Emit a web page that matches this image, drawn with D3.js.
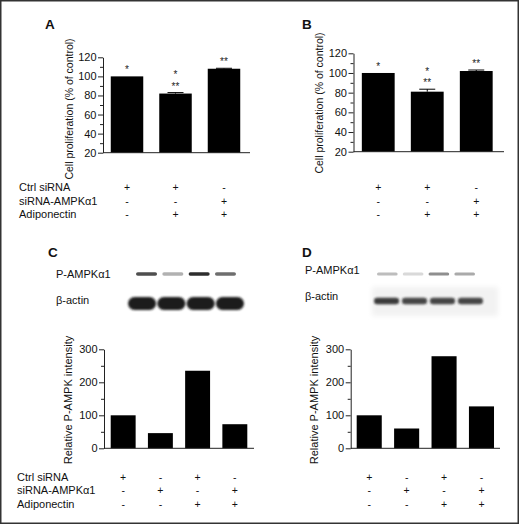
<!DOCTYPE html>
<html>
<head>
<meta charset="utf-8">
<script src="https://cdn.jsdelivr.net/npm/d3@7"></script>
<style>
  body { margin: 0; background: #fff; }
  svg { display: block; }
</style>
</head>
<body>
<div id="chart-wrap"></div>
<script>
// --- data -----------------------------------------------------------
// panels A / B : cell proliferation (% of control)
const groupsAB = ["ctrl", "ctrl+adipo", "si+adipo"];
const prolifA = [100, 82, 108];
const prolifErrA = [0, 1, 0.5];
const prolifB = [100, 81, 102];
const prolifErrB = [0, 2.5, 1];
const starsA = [["*"], ["*", "**"], ["**"]];
const starsB = [["*"], ["*", "**"], ["**"]];
const prolifTicks = [20, 40, 60, 80, 100, 120];
const prolifMinor = [30, 50, 70, 90, 110];

const rowLabels = ["Ctrl siRNA", "siRNA-AMPKα1", "Adiponectin"];
const signsAB = [["+", "+", "-"], ["-", "-", "+"], ["-", "+", "+"]];

// panels C / D : relative P-AMPK intensity
const groupsCD = ["ctrl", "si", "ctrl+adipo", "si+adipo"];
const intensityC = [100, 46, 235, 73];
const intensityD = [100, 60, 279, 127];
const intensityTicks = [0, 100, 200, 300];
const intensityMinor = [50, 150, 250];
const signsCD = [["+", "-", "+", "-"], ["-", "+", "-", "+"], ["-", "-", "+", "+"]];

// western blot band densities (0-1)
const blotLabels = ["P-AMPKα1", "β-actin"];
const pampkC = [0.8, 0.35, 0.95, 0.65];
const actinC = [1, 1, 1, 1];
const pampkD = [0.35, 0.2, 0.6, 0.45];
const actinD = [0.85, 0.8, 0.8, 0.8];

// --- drawing --------------------------------------------------------
const width = 520;
const height = 527;
const FONT = "'Liberation Sans', Arial, Helvetica, sans-serif";
const INK = "#111";

const svg = d3.select("#chart-wrap")
  .append("svg")
  .attr("width", width)
  .attr("height", height)
  .attr("font-family", FONT);

const defs = svg.append("defs");
[["blur1", 0.9], ["blur2", 0.6], ["blur3", 2.5]].forEach(([id, s]) => {
  defs.append("filter").attr("id", id)
    .attr("x", "-20%").attr("y", "-50%").attr("width", "140%").attr("height", "200%")
    .append("feGaussianBlur").attr("stdDeviation", s);
});

// outer frame
svg.append("rect")
  .attr("x", 0.75).attr("y", 0.75)
  .attr("width", 517.5).attr("height", 522.5)
  .attr("fill", "none").attr("stroke", "#333").attr("stroke-width", 1.5);

function barChart(cfg) {
  const g = svg.append("g");
  const y = d3.scaleLinear().domain(cfg.domain).range([cfg.bottom, cfg.top]);
  const x = d3.scaleBand()
    .domain(cfg.groups)
    .range([cfg.left, cfg.right])
    .paddingInner(0.33)
    .paddingOuter(cfg.outer);
  const bw = x.bandwidth();
  const cx = i => x(cfg.groups[i]) + bw / 2;

  // bars
  g.selectAll("rect.bar")
    .data(cfg.values)
    .join("rect")
    .attr("class", "bar")
    .attr("x", (d, i) => x(cfg.groups[i]))
    .attr("y", d => y(d))
    .attr("width", bw)
    .attr("height", d => y(cfg.domain[0]) - y(d))
    .attr("fill", "#000");

  // error bars
  if (cfg.errors) {
    cfg.values.forEach((v, i) => {
      const e = cfg.errors[i];
      if (!e) return;
      g.append("line")
        .attr("x1", cx(i)).attr("x2", cx(i))
        .attr("y1", y(v)).attr("y2", y(v + e))
        .attr("stroke", "#000").attr("stroke-width", 1);
      g.append("line")
        .attr("x1", cx(i) - 8).attr("x2", cx(i) + 8)
        .attr("y1", y(v + e)).attr("y2", y(v + e))
        .attr("stroke", "#000").attr("stroke-width", 1);
    });
  }

  // significance stars, bottom line sits closest to the bar
  if (cfg.stars) {
    cfg.stars.forEach((lines, i) => {
      const top = y(cfg.values[i] + (cfg.errors ? cfg.errors[i] : 0));
      const n = lines.length;
      lines.forEach((s, k) => {
        g.append("text")
          .attr("x", cx(i))
          .attr("y", top - 9 - (n - 1 - k) * 11.5 + 6)
          .attr("text-anchor", "middle")
          .attr("font-size", 10)
          .attr("fill", "#222")
          .text(s);
      });
    });
  }

  // y axis, major + minor ticks
  const axis = g.append("g")
    .attr("transform", `translate(${cfg.left},0)`)
    .call(d3.axisLeft(y).tickValues(cfg.ticks).tickSize(5).tickSizeOuter(0).tickPadding(1.5));
  axis.attr("font-family", FONT).attr("font-size", 11);
  axis.selectAll("text").attr("fill", INK);
  axis.selectAll("line, path").attr("stroke", "#222");

  const minor = g.append("g")
    .attr("transform", `translate(${cfg.left},0)`)
    .call(d3.axisLeft(y).tickValues(cfg.minor).tickSize(3).tickSizeOuter(0).tickFormat(""));
  minor.select(".domain").remove();
  minor.selectAll("line").attr("stroke", "#222");

  // baseline
  g.append("line")
    .attr("x1", cfg.left).attr("x2", cfg.axisEnd)
    .attr("y1", y(cfg.domain[0])).attr("y2", y(cfg.domain[0]))
    .attr("stroke", "#222");

  // y label
  g.append("text")
    .attr("transform", `translate(${cfg.labelX},${cfg.labelY}) rotate(-90)`)
    .attr("text-anchor", "middle")
    .attr("font-size", cfg.labelSize)
    .attr("fill", INK)
    .text(cfg.label);

  // treatment table
  cfg.signs.forEach((row, r) => {
    row.forEach((s, i) => {
      g.append("text")
        .attr("x", cx(i))
        .attr("y", cfg.rowY[r])
        .attr("text-anchor", "middle")
        .attr("font-size", 10.5)
        .attr("fill", INK)
        .text(s);
    });
    if (cfg.rowLabelX != null) {
      g.append("text")
        .attr("x", cfg.rowLabelX)
        .attr("y", cfg.rowY[r])
        .attr("font-size", 11)
        .attr("fill", INK)
        .text(rowLabels[r]);
    }
  });
}

function panelLetter(t, x, y) {
  svg.append("text")
    .attr("x", x).attr("y", y)
    .attr("font-size", 13.5)
    .attr("font-weight", "bold")
    .attr("fill", INK)
    .text(t);
}

function blot(cfg) {
  const g = svg.append("g");
  if (cfg.bg) {
    g.append("rect")
      .attr("x", cfg.bg[0]).attr("y", cfg.bg[1])
      .attr("width", cfg.bg[2]).attr("height", cfg.bg[3])
      .attr("fill", "#f2f2f2")
      .attr("filter", "url(#blur3)");
  }
  const xp = d3.scaleBand().domain(cfg.groups).range(cfg.pRange).paddingInner(0.2);
  g.selectAll("rect.p")
    .data(cfg.pampk)
    .join("rect")
    .attr("class", "p")
    .attr("x", (d, i) => xp(cfg.groups[i]))
    .attr("y", cfg.pY - cfg.pH / 2)
    .attr("width", xp.bandwidth())
    .attr("height", cfg.pH)
    .attr("rx", cfg.pH / 2)
    .attr("fill", cfg.pColor)
    .attr("opacity", d => d)
    .attr("filter", "url(#blur2)");

  const xa = d3.scaleBand().domain(cfg.groups).range(cfg.aRange).paddingInner(cfg.aPad);
  g.selectAll("rect.a")
    .data(cfg.actin)
    .join("rect")
    .attr("class", "a")
    .attr("x", (d, i) => xa(cfg.groups[i]))
    .attr("y", cfg.aY - cfg.aH / 2)
    .attr("width", xa.bandwidth())
    .attr("height", cfg.aH)
    .attr("rx", cfg.aH / 2)
    .attr("fill", "#1c1c1c")
    .attr("opacity", d => d)
    .attr("filter", "url(#blur1)");

  blotLabels.forEach((t, i) => {
    g.append("text")
      .attr("x", cfg.labelX)
      .attr("y", cfg.labelY[i])
      .attr("font-size", 11)
      .attr("fill", INK)
      .text(t);
  });
}

// A
panelLetter("A", 45, 28.5);
barChart({
  groups: groupsAB, values: prolifA, errors: prolifErrA, stars: starsA,
  domain: [20, 120], ticks: prolifTicks, minor: prolifMinor,
  left: 103, right: 248, outer: 0.16, axisEnd: 250,
  top: 57.3, bottom: 152.7,
  label: "Cell proliferation (% of control)", labelX: 73, labelY: 109, labelSize: 10.5,
  signs: signsAB, rowY: [191, 205, 218], rowLabelX: 19
});

// B
panelLetter("B", 302, 28.5);
barChart({
  groups: groupsAB, values: prolifB, errors: prolifErrB, stars: starsB,
  domain: [20, 120], ticks: prolifTicks, minor: prolifMinor,
  left: 353.5, right: 501, outer: 0.17, axisEnd: 504,
  top: 53.3, bottom: 151.7,
  label: "Cell proliferation (% of control)", labelX: 323, labelY: 103, labelSize: 10.5,
  signs: signsAB, rowY: [191, 205, 218], rowLabelX: null
});

// C
panelLetter("C", 48, 257);
blot({
  groups: groupsCD, pampk: pampkC, actin: actinC,
  pRange: [136, 236], pY: 274, pH: 3.5, pColor: "#222",
  aRange: [128, 244], aPad: 0.04, aY: 303.5, aH: 13,
  labelX: 56, labelY: [277.5, 303.5]
});
barChart({
  groups: groupsCD, values: intensityC,
  domain: [0, 300], ticks: intensityTicks, minor: intensityMinor,
  left: 104, right: 254, outer: 0.18, axisEnd: 254,
  top: 349.3, bottom: 448.3,
  label: "Relative P-AMPK intensity", labelX: 72, labelY: 400, labelSize: 11,
  signs: signsCD, rowY: [481, 494, 507.5], rowLabelX: 17
});

// D
panelLetter("D", 302, 257);
blot({
  groups: groupsCD, pampk: pampkD, actin: actinD,
  bg: [372, 287, 126, 29],
  pRange: [377, 475], pY: 274, pH: 3, pColor: "#444",
  aRange: [374, 483], aPad: 0.1, aY: 301, aH: 6.5,
  labelX: 305, labelY: [274, 300]
});
barChart({
  groups: groupsCD, values: intensityD,
  domain: [0, 300], ticks: intensityTicks, minor: intensityMinor,
  left: 350.7, right: 500, outer: 0.16, axisEnd: 500,
  top: 349.3, bottom: 448.3,
  label: "Relative P-AMPK intensity", labelX: 318, labelY: 400, labelSize: 11,
  signs: signsCD, rowY: [481, 494, 507.5], rowLabelX: null
});
</script>
</body>
</html>
